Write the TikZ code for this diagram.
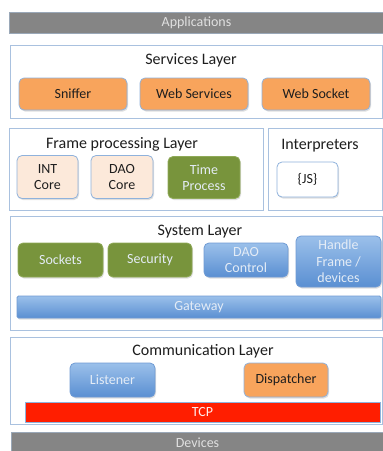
\documentclass[tikz,border=0pt]{standalone}
\usepackage{fontspec}
\setmainfont{Carlito}
\usetikzlibrary{shadows}
\definecolor{framec}{HTML}{A9C1DF}
\definecolor{orangef}{HTML}{F8A45C}
\definecolor{peachf}{HTML}{FCE9DA}
\definecolor{greenf}{HTML}{78943C}
\definecolor{greenb}{HTML}{8FAA58}
\definecolor{bluetop}{HTML}{9BC0EA}
\definecolor{bluebot}{HTML}{5A8FD2}
\definecolor{blueb}{HTML}{6F9BD4}
\definecolor{boxb}{HTML}{8FB2DC}
\definecolor{grayf}{HTML}{858585}
\definecolor{grayb}{HTML}{9AA8B8}
\definecolor{tcpred}{HTML}{FF1E00}
\definecolor{lighttxt}{HTML}{E4ECF6}
\definecolor{darktxt}{HTML}{1E1E1E}
\tikzset{
  x=1pt, y=-1pt,
  layerframe/.style={draw=framec, line width=1pt, fill=white},
  ltitle/.style={font=\fontsize{16}{18}\selectfont, text=darktxt, inner sep=0pt},
  rbox/.style={rounded corners=5pt, line width=0.8pt, inner sep=0pt, align=center,
     font=\fontsize{14}{16.5}\selectfont,
     drop shadow={opacity=0.25, shadow xshift=1pt, shadow yshift=-1.5pt}},
  orangebox/.style={rbox, draw=boxb, fill=orangef, text=darktxt},
  peachbox/.style={rbox, draw=boxb, fill=peachf, text=darktxt},
  whitebox/.style={rbox, draw=boxb, fill=white, text=darktxt},
  greenbox/.style={rbox, draw=greenb, fill=greenf, text=lighttxt},
  bluebox/.style={rbox, draw=blueb, top color=bluetop, bottom color=bluebot, text=lighttxt},
  graybar/.style={draw=grayb, line width=0.8pt, fill=grayf, inner sep=0pt,
     font=\fontsize{14}{16}\selectfont, text=white!88!black},
}
\begin{document}
\begin{tikzpicture}
\useasboundingbox (0,0) rectangle (383,451);
\fill[white] (0,0) rectangle (383,451);

% Applications
\node[graybar, minimum width=375pt, minimum height=21pt] (apps) at (196.5,22.5) {Applications};

% Services layer
\draw[layerframe] (10,45) rectangle (382,118);
\node[ltitle] (servt) at (191,60) {Services Layer};
\node[orangebox, minimum width=108pt, minimum height=32pt] (sniffer) at (73,94) {Sniffer};
\node[orangebox, minimum width=108pt, minimum height=32pt] (websrv) at (194,94) {Web Services};
\node[orangebox, minimum width=108pt, minimum height=32pt] (websock) at (316,94) {Web Socket};

% Frame processing layer
\draw[layerframe] (9,128) rectangle (263,210);
\node[ltitle] (framet) at (122,144) {Frame processing Layer};
\node[peachbox, minimum width=61pt, minimum height=43pt] (intcore) at (47.5,177) {INT\\Core};
\node[peachbox, minimum width=62pt, minimum height=43pt] (daocore) at (122,177) {DAO\\Core};
\node[greenbox, minimum width=72pt, minimum height=42pt] (timeproc) at (204,177.5) {Time\\Process};

% Interpreters
\draw[layerframe] (268,128) rectangle (382,210);
\node[ltitle] (interpt) at (320,146) {Interpreters};
\node[whitebox, minimum width=61pt, minimum height=35pt] (js) at (307.5,179.5) {\{JS\}};

% System layer
\draw[layerframe] (10,216) rectangle (382,330);
\node[ltitle] (syst) at (200,232) {System Layer};
\node[greenbox, minimum width=85pt, minimum height=34pt] (sockets) at (60.5,260) {Sockets};
\node[greenbox, minimum width=84pt, minimum height=34pt] (security) at (150,260) {Security};
\node[bluebox, minimum width=84pt, minimum height=34pt] (daoctl) at (246,260) {DAO\\Control};
\node[bluebox, minimum width=85pt, minimum height=51pt] (handle) at (338.5,261.5) {Handle\\Frame /\\devices};
\node[bluebox, rounded corners=1.5pt, minimum width=364pt, minimum height=22pt] (gateway) at (199,307) {Gateway};

% Communication layer
\draw[layerframe] (10,337) rectangle (382,424);
\node[ltitle] (commt) at (203,351) {Communication Layer};
\node[bluebox, minimum width=85pt, minimum height=34pt] (listener) at (112.5,380) {Listener};
\node[orangebox, minimum width=84pt, minimum height=34pt] (dispatcher) at (286,380) {Dispatcher};
\node[draw=boxb, line width=0.6pt, fill=tcpred, inner sep=0pt, text=white!92!red,
      font=\fontsize{14}{16}\selectfont, minimum width=355pt, minimum height=20pt] (tcp) at (202.5,412) {TCP};

% Devices
\node[graybar, minimum width=373pt, minimum height=21pt] (devices) at (197.5,442.5) {Devices};
\end{tikzpicture}
\end{document}
